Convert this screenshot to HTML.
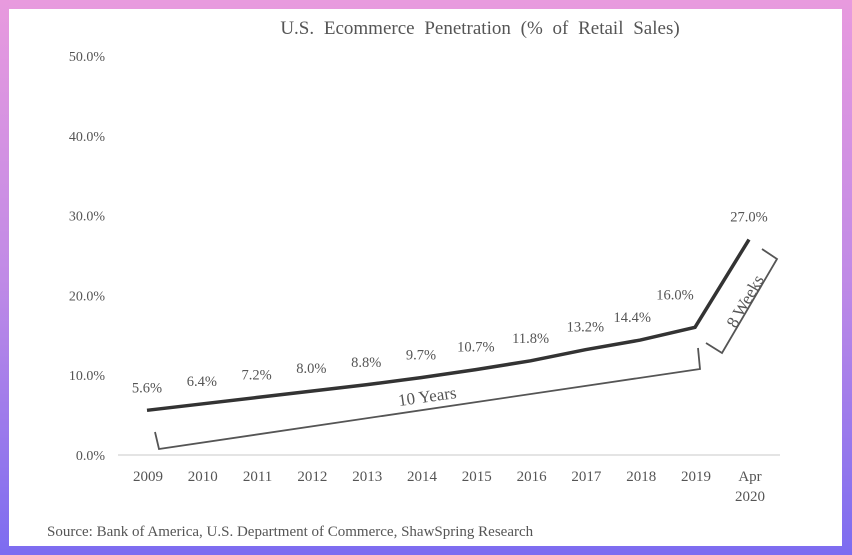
<!DOCTYPE html>
<html><head><meta charset="utf-8"><style>
html,body{margin:0;padding:0;width:852px;height:555px;overflow:hidden}
body{background:linear-gradient(180deg,#e89ade 0%,#c08ae6 50%,#7c6cf0 100%)}
#card{position:absolute;left:9px;top:9px;width:833px;height:537px;background:#fff}
svg{position:absolute;left:0;top:0}
text{font-family:"Liberation Serif",serif;fill:#555}
</style></head><body>
<div id="card"></div>
<svg id="chart" width="852" height="555">
<text x="480" y="34" font-size="19" text-anchor="middle" style="word-spacing:5px">U.S. Ecommerce Penetration (% of Retail Sales)</text>
<line x1="118" y1="455" x2="780" y2="455" stroke="#e4e4e4" stroke-width="2"/>
<g id="yticks"></g><g id="xticks"></g>
<polyline id="line" fill="none" stroke="#333" stroke-width="3.5" stroke-linejoin="miter"/>
<g id="labels"></g>
<polyline points="155,432 159,449 700,369 698,348" fill="none" stroke="#555" stroke-width="1.8"/>
<text x="428" y="402" font-size="17" text-anchor="middle" transform="rotate(-8 428 402)">10 Years</text>
<polyline points="706,343 722,353 777,259 762,249" fill="none" stroke="#555" stroke-width="1.8"/>
<text x="750" y="304" font-size="17" text-anchor="middle" transform="rotate(-60 750 304)">8 Weeks</text>
<text x="47" y="536" font-size="15" fill="#444">Source: Bank of America, U.S. Department of Commerce, ShawSpring Research</text>
</svg>
<script>
const categories=["2009","2010","2011","2012","2013","2014","2015","2016","2017","2018","2019","Apr 2020"];
const values=[5.6,6.4,7.2,8.0,8.8,9.7,10.7,11.8,13.2,14.4,16.0,27.0];
const valueLabels=["5.6%","6.4%","7.2%","8.0%","8.8%","9.7%","10.7%","11.8%","13.2%","14.4%","16.0%","27.0%"];
const yTicks=[0,10,20,30,40,50];
const yTickLabels=["0.0%","10.0%","20.0%","30.0%","40.0%","50.0%"];
const NS="http://www.w3.org/2000/svg";
function x(i){return i<11?147+i*54.8:749;}
function y(v){return 455-v*7.98;}
function mk(tag,attrs,parent,txt){const e=document.createElementNS(NS,tag);for(const k in attrs)e.setAttribute(k,attrs[k]);if(txt!==undefined)e.textContent=txt;parent.appendChild(e);return e;}
const yg=document.getElementById('yticks');
yTicks.forEach((t,i)=>{const e=mk('text',{x:105,y:y(t)+5,'font-size':14,'text-anchor':'end'},yg,yTickLabels[i]);

});
const xg=document.getElementById('xticks');
categories.forEach((c,i)=>{const parts=c.split(' ');
parts.forEach((p,j)=>{const e=mk('text',{x:x(i)+1,y:481+j*20,'font-size':15,'text-anchor':'middle'},xg,p);

});});
document.getElementById('line').setAttribute('points',values.map((v,i)=>x(i)+','+y(v)).join(' '));
const lg=document.getElementById('labels');
values.forEach((v,i)=>{let dx=0,dy=-18;if(i===10){dx=-20;dy=-28;}if(i===9){dx=-8;}
const e=mk('text',{x:x(i)+dx,y:y(v)+dy,'font-size':14.5,'text-anchor':'middle'},lg,valueLabels[i]);

});
</script>
</body></html>
